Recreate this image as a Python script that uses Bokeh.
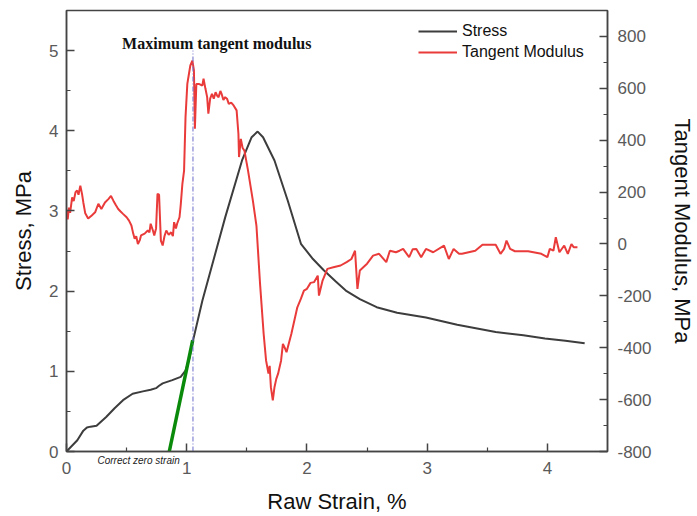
from bokeh.plotting import figure
from bokeh.models import (Range1d, LinearAxis, Label, Legend, LegendItem, FixedTicker,
                          PrintfTickFormatter)
from bokeh.embed import file_html
from bokeh.resources import INLINE

# ---- data ----
strain_s = [0, 0.09, 0.14, 0.17, 0.20, 0.25, 0.33, 0.40, 0.47, 0.55, 0.635, 0.70, 0.745, 0.77,
            0.80, 0.88, 0.95, 0.99, 1.02, 1.055, 1.13, 1.32, 1.46, 1.54, 1.59, 1.635, 1.73,
            1.84, 1.95, 2.05, 2.14, 2.24, 2.33, 2.44, 2.58, 2.75, 2.99, 3.25, 3.57, 3.80,
            3.98, 4.15, 4.31]
stress = [0, 0.14, 0.26, 0.30, 0.31, 0.32, 0.43, 0.54, 0.64, 0.72, 0.75, 0.77, 0.79, 0.82,
          0.85, 0.89, 0.93, 1.01, 1.15, 1.40, 1.88, 2.92, 3.63, 3.92, 3.99, 3.92, 3.63,
          3.13, 2.59, 2.40, 2.26, 2.12, 2.00, 1.90, 1.80, 1.73, 1.67, 1.58, 1.49, 1.45,
          1.41, 1.38, 1.35]

strain_t = [0.0, 0.005, 0.01, 0.02, 0.03, 0.047, 0.06, 0.075, 0.088, 0.10, 0.115, 0.129, 0.14,
            0.156, 0.18, 0.21, 0.238, 0.265, 0.29, 0.32, 0.35, 0.37, 0.39, 0.41, 0.43, 0.45,
            0.47, 0.50, 0.52, 0.54, 0.555, 0.567, 0.58, 0.594, 0.61, 0.62, 0.65, 0.676, 0.69,
            0.70, 0.72, 0.73, 0.745, 0.757, 0.77, 0.785, 0.80, 0.815, 0.83, 0.85, 0.87, 0.885,
            0.895, 0.91, 0.92, 0.94, 0.95, 0.964, 0.978, 0.99, 1.005, 1.02, 1.03, 1.047, 1.06,
            1.068, 1.08, 1.10, 1.13, 1.14, 1.155, 1.17, 1.18, 1.195, 1.21, 1.225, 1.24, 1.255,
            1.265, 1.28, 1.29, 1.305, 1.32, 1.335, 1.35, 1.37, 1.39, 1.415, 1.43, 1.435, 1.45,
            1.465, 1.48, 1.51, 1.55, 1.58, 1.61, 1.64, 1.66, 1.68, 1.69, 1.70, 1.716, 1.73,
            1.745, 1.76, 1.785, 1.80, 1.815, 1.83, 1.87, 1.92, 1.95, 1.975, 2.0, 2.03, 2.06,
            2.09, 2.10, 2.13, 2.17, 2.22, 2.28, 2.33, 2.37, 2.40, 2.42, 2.44, 2.50, 2.55, 2.60,
            2.66, 2.69, 2.74, 2.77, 2.80, 2.85, 2.88, 2.91, 2.95, 2.99, 3.05, 3.14, 3.18, 3.22,
            3.265, 3.29, 3.40, 3.46, 3.57, 3.61, 3.64, 3.66, 3.69, 3.73, 3.84, 3.95, 4.0, 4.02,
            4.05, 4.07, 4.10, 4.14, 4.17, 4.20, 4.22, 4.25]
tangent = [100, 129, 95, 140, 120, 180, 165, 200, 206, 190, 225, 193, 160,
           118, 98, 110, 122, 155, 135, 160, 174, 185, 167, 150, 135, 125,
           116, 103, 90, 71, 40, 20, 30, 0, 15, 33, 40, 52, 45,
           78, 50, 33, 60, 193, 190, 13, -6, 30, 52, 35, 45, 30,
           84, 60, 78, 103, 150, 232, 283, 489, 617, 660, 688, 707, 669,
           444, 617, 617, 611, 637, 600, 566, 502, 560, 579, 560, 585, 570,
           566, 590, 579, 555, 566, 560, 540, 545, 534, 515, 425, 335, 405,
           370, 360, 283, 168, 70, -154, -347, -449, -500, -470, -552, -603, -552,
           -520, -500, -449, -385, -400, -417, -347, -244, -211, -180, -173, -150, -147,
           -122, -199, -141, -96, -90, -83, -70, -58, -26, -173, -102, -76, -45, -38,
           -70, -26, -32, -26, -19, -51, -20, -19, -51, -19, -32, -6, -58, -19,
           -38, -38, -26, -3, -3, -38, -19, 13, -19, -28, -28, -38, -51, -19,
           -26, 26, -32, -6, -38, 0, -13, -13]

zero_line_x = [0.855, 1.05]
zero_line_y = [0.0, 1.39]
max_mod_x = [1.052, 1.052]
max_mod_y = [0.0, 5.0]

x_ticks = [0, 1, 2, 3, 4]
y_ticks = [0, 1, 2, 3, 4, 5]
y2_ticks = [-800, -600, -400, -200, 0, 200, 400, 600, 800]
note_x = 0.6
note_text = "Correct zero strain"

AX = "#444444"
TICKC = "#5a5a5a"
FONT = "Liberation Sans"

p = figure(width=697, height=516, output_backend="svg", toolbar_location=None,
           x_range=Range1d(0, 4.5), y_range=Range1d(0, 5.5),
           min_border_left=66, min_border_right=84, min_border_top=10, min_border_bottom=65)
p.extra_y_ranges = {"tm": Range1d(-800, 900)}
p.grid.visible = False
p.outline_line_color = AX
p.outline_line_width = 1.5
p.background_fill_color = "white"
p.border_fill_color = "white"

def style(ax, ticks, minor, standoff):
    ax.ticker = FixedTicker(ticks=ticks, minor_ticks=minor)
    ax.formatter = PrintfTickFormatter(format="%d")
    ax.axis_line_color = AX
    ax.axis_line_width = 1.5
    ax.major_tick_line_color = AX
    ax.minor_tick_line_color = AX
    ax.major_tick_line_width = 1.5
    ax.minor_tick_line_width = 1.2
    ax.major_tick_in = 8
    ax.major_tick_out = 0
    ax.minor_tick_in = 4
    ax.minor_tick_out = 0
    ax.major_label_text_font = FONT
    ax.major_label_text_font_size = "17px"
    ax.major_label_text_color = TICKC
    ax.major_label_standoff = standoff
    ax.axis_label_text_font = FONT
    ax.axis_label_text_font_size = "22px"
    ax.axis_label_text_font_style = "normal"
    ax.axis_label_text_color = "#111111"

style(p.xaxis[0], x_ticks, [0.5, 1.5, 2.5, 3.5], 10)
style(p.yaxis[0], y_ticks, [0.5, 1.5, 2.5, 3.5, 4.5], 8)
p.yaxis[0].axis_label = "Stress, MPa"
p.yaxis[0].axis_label_standoff = 10

rax = LinearAxis(y_range_name="tm")
style(rax, y2_ticks, [-700, -500, -300, -100, 100, 300, 500, 700], 10)
rax.axis_label = "Tangent Modulus, MPa"
rax.axis_label_standoff = 15
p.add_layout(rax, "right")

# second bottom axis: carries the small italic note (pulled up next to the tick labels)
# and the x axis title
nax = LinearAxis(ticker=FixedTicker(ticks=[note_x], minor_ticks=[]),
                 formatter=PrintfTickFormatter(format=note_text),
                 axis_line_color=None, major_tick_line_color=None, minor_tick_line_color=None,
                 major_tick_in=0, major_tick_out=0, minor_tick_in=0, minor_tick_out=0,
                 major_label_standoff=-22, major_label_text_font=FONT,
                 major_label_text_font_style="italic", major_label_text_font_size="10px",
                 major_label_text_color="#222222",
                 axis_label="Raw Strain, %", axis_label_standoff=20,
                 axis_label_text_font=FONT, axis_label_text_font_size="22px",
                 axis_label_text_font_style="normal", axis_label_text_color="#111111")
p.add_layout(nax, "below")

r_stress = p.line(strain_s, stress, line_color="#3d3d3d", line_width=2)
r_tan = p.line(strain_t, tangent, line_color="#ea3b3b", line_width=2, y_range_name="tm")
p.line(zero_line_x, zero_line_y, line_color="#0a8a0a", line_width=3.5)
p.line(max_mod_x, max_mod_y, line_color="#6a6ac8", line_width=1, line_dash="5 2 1 2")

p.add_layout(Label(x=1.25, y=5.09, text="Maximum tangent modulus", text_align="center",
                   text_baseline="middle", text_font="Liberation Serif", text_font_style="bold",
                   text_font_size="16px", text_color="#111111"))

legend = Legend(items=[LegendItem(label="Stress", renderers=[r_stress]),
                       LegendItem(label="Tangent Modulus", renderers=[r_tan])],
                location=(352, 389), padding=0, margin=0, spacing=1,
                glyph_width=39, glyph_height=20, label_height=20, label_standoff=5,
                label_text_font=FONT, label_text_font_size="16px", label_text_color="#111111",
                border_line_color=None, background_fill_alpha=0)
p.add_layout(legend)

open("out.html", "w").write(file_html(p, INLINE))
